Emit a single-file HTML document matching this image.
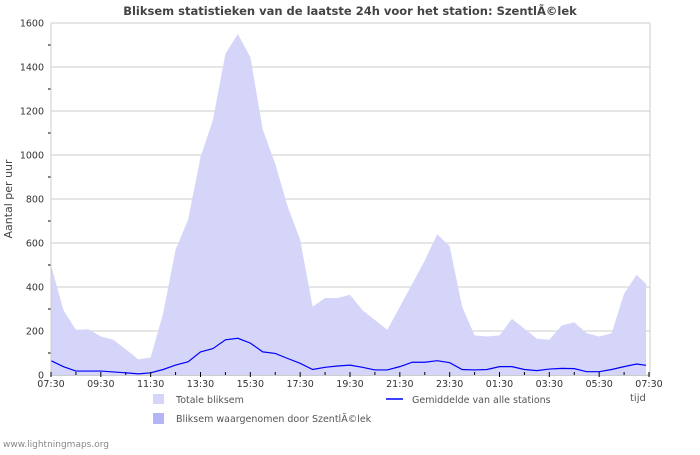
<!DOCTYPE html>
<html><head><meta charset="utf-8"><style>
body{margin:0;width:700px;height:450px;background:#fff;overflow:hidden;font-family:"Liberation Sans","DejaVu Sans",sans-serif}
svg text{font-family:"DejaVu Sans","Liberation Sans",sans-serif}
</style></head><body>
<svg id="c" width="700" height="450" xmlns="http://www.w3.org/2000/svg">
<text x="350" y="15" text-anchor="middle" font-size="11.5" font-weight="bold" fill="#444">Bliksem statistieken van de laatste 24h voor het station: SzentlÃ©lek</text>
<text transform="translate(12,199) rotate(-90)" text-anchor="middle" font-size="11" fill="#444">Aantal per uur</text>
<g id="grid"></g><g id="marks"></g><g id="axes"></g>
<rect x="153" y="394" width="11" height="10" fill="#d5d5fa"/>
<text x="176" y="403" font-size="9.5" fill="#555">Totale bliksem</text>
<rect x="153" y="413" width="11" height="11" fill="#b4b4f7"/>
<text x="176" y="422" font-size="9.5" fill="#555">Bliksem waargenomen door SzentlÃ©lek</text>
<line x1="386" y1="399" x2="403" y2="399" stroke="#0000ff" stroke-width="1.5"/>
<text x="412" y="403" font-size="9.5" fill="#555">Gemiddelde van alle stations</text>
<text x="630" y="401" font-size="10" fill="#555">tijd</text>
<text x="3" y="447" font-size="9" fill="#888">www.lightningmaps.org</text>
</svg>
<script>
const hours=[0,0.5,1,1.5,2,2.5,3,3.5,4,4.5,5,5.5,6,6.5,7,7.5,8,8.5,9,9.5,10,10.5,11,11.5,12,12.5,13,13.5,14,14.5,15,15.5,16,16.5,17,17.5,18,18.5,19,19.5,20,20.5,21,21.5,22,22.5,23,23.5,23.88];
const totalStrikes=[500,295,205,208,175,160,117,71,80,280,570,705,990,1160,1460,1550,1445,1115,960,765,615,310,350,350,365,295,250,205,310,415,520,640,585,310,180,175,180,255,210,165,160,225,240,190,175,190,370,455,415];
const averageAll=[65,38,18,18,18,14,10,5,10,25,45,60,105,120,160,167,145,105,98,75,53,25,35,41,45,35,23,23,38,58,58,65,56,25,23,25,38,38,25,20,27,30,29,15,15,25,38,50,44];
const yTicks=[0,200,400,600,800,1000,1200,1400,1600];
const xLabels=["07:30","09:30","11:30","13:30","15:30","17:30","19:30","21:30","23:30","01:30","03:30","05:30","07:30"];
const X0=51,X1=649,Y0=375,Y1=23;
const xs=h=>X0+(X1-X0)*h/24;
const ys=v=>Y0-(Y0-Y1)*v/1600;
const NS="http://www.w3.org/2000/svg";
function mk(t,a,p){const e=document.createElementNS(NS,t);for(const k in a)e.setAttribute(k,a[k]);p.appendChild(e);return e;}
const grid=document.getElementById('grid'),marks=document.getElementById('marks'),axes=document.getElementById('axes');
yTicks.forEach(v=>{
 const l=mk('line',{x1:X0,x2:X1+1,y1:ys(v),y2:ys(v),stroke:'#ccc','stroke-width':1},grid);
 
 
 const t=mk('text',{x:X0-7,y:ys(v)+3.5,'text-anchor':'end','font-size':9.5,fill:'#333'},axes);
 t.textContent=v;
 
 
});
for(let v=100;v<1600;v+=200){mk('line',{x1:X0-3,x2:X0,y1:ys(v),y2:ys(v),stroke:'#000'},axes);}
let d='M'+xs(hours[0])+','+Y0;
hours.forEach((h,i)=>{d+=' L'+xs(h)+','+ys(totalStrikes[i]);});
d+=' L'+xs(hours[hours.length-1])+','+Y0+' Z';
const area=mk('path',{d:d,fill:'#d5d5fa'},marks);


const pl=mk('polyline',{points:hours.map((h,i)=>xs(h)+','+ys(averageAll[i])).join(' '),fill:'none',stroke:'#0000ff','stroke-width':1.2},marks);


mk('line',{x1:X0,x2:X0,y1:Y1,y2:Y0,stroke:'#ccc'},axes);
mk('line',{x1:X1+1,x2:X1+1,y1:Y1,y2:Y0,stroke:'#ccc'},axes);
mk('line',{x1:X0,x2:X1+1,y1:Y0+0.5,y2:Y0+0.5,stroke:'#ccc'},axes);
for(let h=0;h<=24;h+=1){mk('line',{x1:xs(h),x2:xs(h),y1:Y0-3,y2:Y0+(h%2?0:2),stroke:'#000'},axes);}
xLabels.forEach((s,i)=>{
 const t=mk('text',{x:xs(i*2),y:Y0+12,'text-anchor':'middle','font-size':9.5,fill:'#333'},axes);
 t.textContent=s;
 
 
});
</script>
</body></html>
